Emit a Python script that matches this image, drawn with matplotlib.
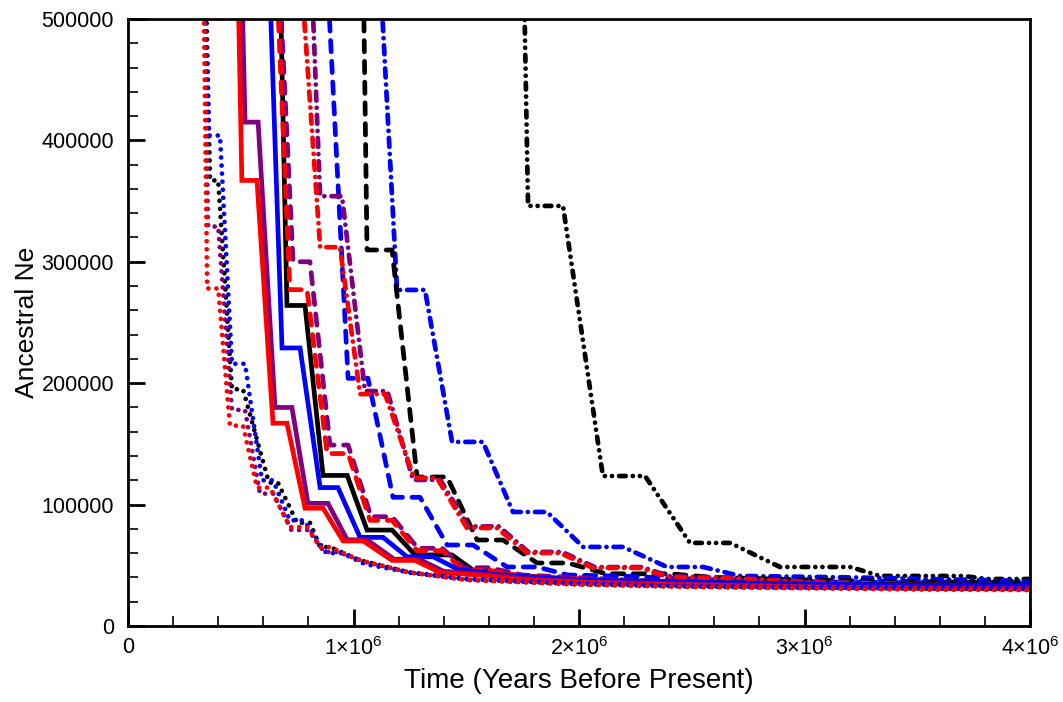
import matplotlib
matplotlib.use("Agg")
import matplotlib.pyplot as plt
from matplotlib.ticker import MultipleLocator, FuncFormatter

plt.rcParams["font.family"] = ["Liberation Sans", "DejaVu Sans"]
plt.rcParams["mathtext.fontset"] = "custom"
plt.rcParams["mathtext.rm"] = "Liberation Sans"
plt.rcParams["mathtext.it"] = "Liberation Sans"

# time (years before present) and ancestral Ne
# --- solid
red_solid_x = [0.488e6, 0.505e6, 0.572e6, 0.643e6, 0.705e6, 0.785e6, 0.865e6, 0.954e6, 1.043e6,
               1.171e6, 1.273e6, 1.384e6, 1.55e6, 1.75e6, 2.0e6, 2.4e6, 3.0e6, 3.5e6, 4.0e6]
red_solid_y = [530000, 367000, 367000, 167000, 167000, 97000, 97000, 70000, 70000,
               54000, 54000, 44000, 42000, 38000, 36000, 34000, 32000, 31000, 30500]
purple_solid_x = [0.505e6, 0.519e6, 0.577e6, 0.652e6, 0.727e6, 0.798e6, 0.887e6, 0.972e6, 1.06e6,
                  1.18e6, 1.29e6, 1.40e6, 1.56e6, 1.8e6, 2.1e6, 2.5e6, 3.0e6, 3.5e6, 4.0e6]
purple_solid_y = [530000, 415000, 415000, 180000, 180000, 101000, 101000, 71000, 71000,
                  55000, 55000, 45000, 43000, 38500, 36000, 34500, 32500, 31500, 31000]
blue_solid_x = [0.628e6, 0.683e6, 0.763e6, 0.852e6, 0.931e6, 1.029e6, 1.131e6, 1.237e6, 1.353e6,
                1.46e6, 1.65e6, 2.0e6, 2.5e6, 3.0e6, 3.5e6, 4.0e6]
blue_solid_y = [530000, 229000, 229000, 114000, 114000, 73000, 73000, 57000, 57000,
                47000, 42000, 38000, 36000, 34500, 33500, 33000]
black_solid_x = [0.675e6, 0.705e6, 0.785e6, 0.865e6, 0.972e6, 1.060e6, 1.171e6, 1.273e6, 1.437e6,
                 1.530e6, 1.70e6, 2.0e6, 2.5e6, 3.0e6, 3.5e6, 4.0e6]
black_solid_y = [530000, 264000, 264000, 124000, 124000, 79000, 79000, 58500, 58500,
                 46000, 42000, 38000, 36000, 34500, 34000, 33500]

# --- dotted
red_dot_x = [0.335e6, 0.351e6, 0.40e6, 0.452e6, 0.51e6, 0.572e6, 0.630e6, 0.718e6, 0.794e6,
             0.852e6, 0.896e6, 1.029e6, 1.237e6, 1.5e6, 2.0e6, 2.5e6, 3.0e6, 3.5e6, 4.0e6]
red_dot_y = [530000, 278000, 278000, 165000, 165000, 114000, 114000, 81500, 81500,
             65000, 65000, 54000, 44500, 38000, 34000, 32000, 31000, 30000, 29500]
purple_dot_x = [0.337e6, 0.355e6, 0.40e6, 0.461e6, 0.519e6, 0.585e6, 0.644e6, 0.725e6, 0.800e6,
                0.870e6, 0.930e6, 1.05e6, 1.25e6, 1.5e6, 2.0e6, 2.5e6, 3.0e6, 3.5e6, 4.0e6]
purple_dot_y = [530000, 329000, 329000, 178000, 178000, 109000, 109000, 79000, 79000,
                61000, 61000, 53000, 44000, 38000, 34500, 32500, 31500, 30500, 30000]
blue_dot_x = [0.340e6, 0.359e6, 0.408e6, 0.461e6, 0.519e6, 0.594e6, 0.643e6, 0.718e6, 0.78e6,
              0.88e6, 0.95e6, 1.05e6, 1.25e6, 1.5e6, 2.0e6, 2.5e6, 3.0e6, 3.5e6, 4.0e6]
blue_dot_y = [530000, 404000, 404000, 216000, 216000, 120000, 120000, 87000, 87000,
              60000, 60000, 51000, 44000, 39000, 35000, 33000, 32000, 31500, 31000]
black_dot_x = [0.345e6, 0.364e6, 0.40e6, 0.461e6, 0.51e6, 0.625e6, 0.665e6, 0.750e6, 0.807e6,
               0.852e6, 0.896e6, 1.029e6, 1.25e6, 1.5e6, 2.0e6, 2.5e6, 3.0e6, 3.5e6, 4.0e6]
black_dot_y = [530000, 367000, 367000, 195000, 195000, 118000, 118000, 85000, 85000,
               65000, 65000, 54000, 44000, 38500, 34500, 32500, 31500, 31000, 30500]

# --- dashed
red_dash_x = [0.660e6, 0.718e6, 0.794e6, 0.883e6, 0.976e6, 1.073e6, 1.171e6, 1.282e6, 1.393e6,
              1.486e6, 1.60e6, 1.75e6, 2.2e6, 2.6e6, 3.0e6, 3.5e6, 4.0e6]
red_dash_y = [530000, 277000, 277000, 142000, 142000, 87000, 87000, 62000, 62000,
              46000, 46000, 41000, 37000, 35000, 33500, 32500, 31500]
purple_dash_x = [0.672e6, 0.732e6, 0.807e6, 0.896e6, 0.976e6, 1.078e6, 1.171e6, 1.286e6, 1.393e6,
                 1.49e6, 1.60e6, 1.75e6, 2.2e6, 2.6e6, 3.0e6, 3.5e6, 4.0e6]
purple_dash_y = [530000, 300000, 300000, 149000, 149000, 90000, 90000, 64000, 64000,
                 48000, 48000, 42000, 38000, 35500, 34000, 33000, 32000]
blue_dash_x = [0.885e6, 0.976e6, 1.064e6, 1.175e6, 1.295e6, 1.415e6, 1.530e6, 1.681e6, 1.814e6,
               1.95e6, 2.2e6, 2.6e6, 3.2e6, 3.6e6, 4.0e6]
blue_dash_y = [530000, 204000, 204000, 106000, 106000, 66700, 66700, 48600, 48600,
               42000, 41000, 38000, 36000, 35500, 35000]
black_dash_x = [1.044e6, 1.060e6, 1.171e6, 1.282e6, 1.415e6, 1.548e6, 1.663e6, 1.814e6, 1.95e6,
                2.12e6, 2.4e6, 2.6e6, 3.0e6, 3.5e6, 4.0e6]
black_dash_y = [530000, 309700, 309700, 122700, 122700, 70800, 70800, 51900, 51900,
                43000, 43000, 40000, 38000, 36500, 35500]

# --- dash-dot
red_dd_x = [0.770e6, 0.852e6, 0.940e6, 1.029e6, 1.140e6, 1.268e6, 1.370e6, 1.503e6, 1.636e6,
            1.770e6, 1.916e6, 2.062e6, 2.271e6, 2.390e6, 2.7e6, 3.0e6, 3.5e6, 4.0e6]
red_dd_y = [530000, 312000, 312000, 191000, 191000, 122000, 122000, 80700, 80700,
            60100, 60100, 47800, 47800, 40400, 39000, 36000, 34000, 32500]
purple_dd_x = [0.815e6, 0.852e6, 0.949e6, 1.051e6, 1.150e6, 1.264e6, 1.385e6, 1.51e6, 1.645e6,
               1.775e6, 1.925e6, 2.07e6, 2.28e6, 2.40e6, 2.7e6, 3.0e6, 3.5e6, 4.0e6]
purple_dd_y = [530000, 354000, 354000, 193500, 193500, 120300, 120300, 82000, 82000,
               61000, 61000, 48500, 48500, 41000, 39500, 36500, 34500, 33000]
blue_dd_x = [1.12e6, 1.193e6, 1.317e6, 1.437e6, 1.574e6, 1.707e6, 1.858e6, 2.018e6, 2.195e6,
             2.390e6, 2.550e6, 2.714e6, 3.2e6, 3.6e6, 4.0e6]
blue_dd_y = [530000, 276800, 276800, 151600, 151600, 93900, 93900, 65100, 65100,
             48600, 48600, 41200, 40000, 38500, 37000]
black_dd_x = [1.756e6, 1.774e6, 1.929e6, 2.106e6, 2.293e6, 2.492e6, 2.670e6, 2.891e6, 3.202e6,
              3.335e6, 3.703e6, 3.809e6, 4.0e6]
black_dd_y = [530000, 346000, 346000, 123500, 123500, 68400, 68400, 48600, 48600,
              41200, 41200, 38700, 38700]

colors = {"black": "#000000", "blue": "#0000ff", "purple": "#7f007f", "red": "#ff0000"}
dotted = (0, (0.01, 1.7))
dashed = (0, (2.4, 2.0))
dashdot = (0, (1.9, 1.5, 0.01, 1.5))
dashdotdot = (0, (1.4, 1.5, 0.01, 1.5, 0.01, 1.5))

series = [
    (black_dd_x, black_dd_y, "black", dashdotdot),
    (blue_dd_x, blue_dd_y, "blue", dashdot),
    (black_dash_x, black_dash_y, "black", dashed),
    (blue_dash_x, blue_dash_y, "blue", dashed),
    (purple_dd_x, purple_dd_y, "purple", dashdot),
    (red_dd_x, red_dd_y, "red", dashdot),
    (black_solid_x, black_solid_y, "black", "solid"),
    (purple_dash_x, purple_dash_y, "purple", dashed),
    (red_dash_x, red_dash_y, "red", dashed),
    (blue_solid_x, blue_solid_y, "blue", "solid"),
    (purple_solid_x, purple_solid_y, "purple", "solid"),
    (red_solid_x, red_solid_y, "red", "solid"),
    (black_dot_x, black_dot_y, "black", dotted),
    (blue_dot_x, blue_dot_y, "blue", dotted),
    (purple_dot_x, purple_dot_y, "purple", dotted),
    (red_dot_x, red_dot_y, "red", dotted),
]

fig = plt.figure(figsize=(10.63, 7.02), dpi=100)
ax = fig.add_axes([0.1204, 0.1083, 0.8486, 0.8647])

for xs, ys, c, ls in series:
    ax.plot(xs, ys, color=colors[c], linestyle=ls, linewidth=3.4,
            dash_capstyle="round", solid_capstyle="butt", solid_joinstyle="miter")

ax.set_xlim(0, 4e6)
ax.set_ylim(0, 500000)

ax.xaxis.set_major_locator(MultipleLocator(1e6))
ax.xaxis.set_minor_locator(MultipleLocator(2e5))
ax.yaxis.set_major_locator(MultipleLocator(100000))
ax.yaxis.set_minor_locator(MultipleLocator(20000))


def fmt_x(v, pos):
    if v == 0:
        return "0"
    return r"$%d{\times}10^{6}$" % round(v / 1e6)


ax.xaxis.set_major_formatter(FuncFormatter(fmt_x))
ax.yaxis.set_major_formatter(FuncFormatter(lambda v, p: "%d" % v))

ax.tick_params(which="both", direction="in", top=False, right=False, labelsize=15.5)
ax.tick_params(which="major", length=12, width=2)
ax.tick_params(which="minor", length=7, width=1.2)
ax.tick_params(axis="x", pad=8)
ax.tick_params(axis="y", pad=10)
for s in ax.spines.values():
    s.set_linewidth(2)

ax.set_xlabel("Time (Years Before Present)", fontsize=20, labelpad=6)
ax.set_ylabel("Ancestral Ne", fontsize=19, labelpad=2)

fig.savefig("out.png", dpi=100)
